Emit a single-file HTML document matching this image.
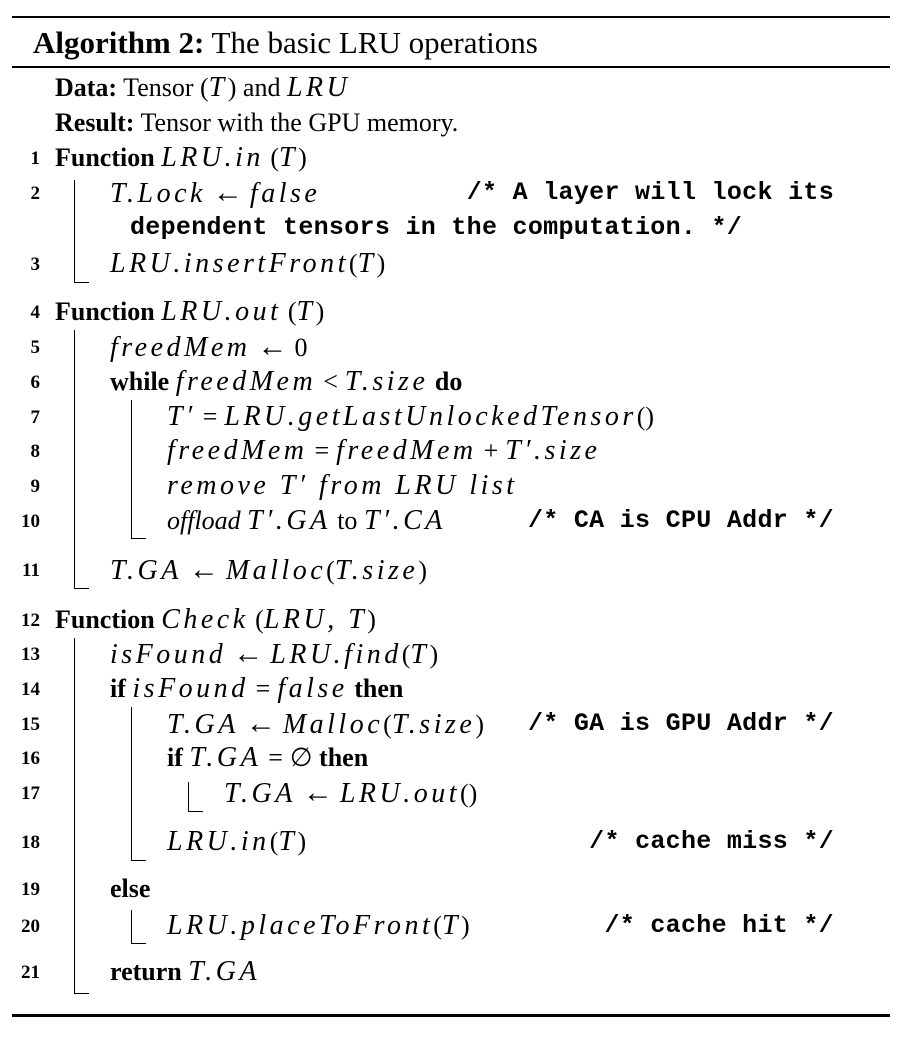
<!DOCTYPE html>
<html><head><meta charset="utf-8"><style>
body{margin:0;width:906px;height:1042px;background:#fff;position:relative;font-family:"Liberation Serif",serif;color:#000;overflow:hidden}
.r{position:absolute;left:12px;width:878px;background:#000}
.l{position:absolute;height:30px;line-height:30px;font-size:26px;white-space:nowrap}
.n{position:absolute;left:0;width:40px;text-align:right;height:30px;line-height:32px;font-size:19px;font-weight:bold}
.c{position:absolute;right:72px;height:30px;line-height:30px;font-family:"Liberation Mono",monospace;font-size:25px;font-weight:bold;white-space:nowrap;letter-spacing:0.3px}
i{font-style:italic;letter-spacing:3.5px;font-size:28px}
i.t{letter-spacing:0;font-size:26px}
b{font-weight:bold}
.o{margin:0 7px}
.a{font-size:30px;margin:0 7px}
.v{position:absolute;border-left:1.5px solid #000;border-bottom:1.5px solid #000;width:14px}
</style></head><body>
<div class="r" style="top:16px;height:2px"></div>
<div class="l" style="left:33px;top:26px;font-size:31px;line-height:34px;height:34px"><b>Algorithm 2:</b> The basic LRU operations</div>
<div class="r" style="top:66px;height:2px"></div>

<div class="l" style="left:55px;top:73px"><b>Data:</b> Tensor (<i>T</i>) and <i>LRU</i></div>
<div class="l" style="left:55px;top:108px"><b>Result:</b> Tensor with the GPU memory.</div>

<div class="n" style="top:143px">1</div><div class="l" style="left:55px;top:143px"><b>Function</b> <i>LRU.in</i> (<i>T</i>)</div>
<div class="n" style="top:178px">2</div><div class="l" style="left:110px;top:178px"><i>T.Lock</i><span class="a">←</span><i>false</i></div>
<div class="c" style="top:178px">/* A layer will lock its</div>
<div class="l" style="left:130px;top:213px;font-family:'Liberation Mono',monospace;font-size:25px;font-weight:bold;letter-spacing:0.3px">dependent tensors in the computation. */</div>
<div class="n" style="top:249px">3</div><div class="l" style="left:110px;top:249px"><i>LRU.insertFront</i>(<i>T</i>)</div>
<div class="v" style="left:74px;top:180px;height:102px"></div>

<div class="n" style="top:297px">4</div><div class="l" style="left:55px;top:297px"><b>Function</b> <i>LRU.out</i> (<i>T</i>)</div>
<div class="n" style="top:332px">5</div><div class="l" style="left:110px;top:332px"><i>freedMem</i><span class="a">←</span>0</div>
<div class="n" style="top:367px">6</div><div class="l" style="left:110px;top:367px"><b>while</b> <i>freedMem</i><span class="o">&lt;</span><i>T.size</i> <b>do</b></div>
<div class="n" style="top:402px">7</div><div class="l" style="left:167px;top:402px"><i>T′</i><span class="o">=</span><i>LRU.getLastUnlockedTensor</i>()</div>
<div class="n" style="top:436px">8</div><div class="l" style="left:167px;top:436px"><i>freedMem</i><span class="o">=</span><i>freedMem</i><span class="o">+</span><i>T′.size</i></div>
<div class="n" style="top:471px">9</div><div class="l" style="left:167px;top:471px"><i>remove T′ from LRU list</i></div>
<div class="n" style="top:506px">10</div><div class="l" style="left:167px;top:506px"><i class="t">offload</i> <i>T′.GA</i> to <i>T′.CA</i></div>
<div class="c" style="top:506px">/* CA is CPU Addr */</div>
<div class="v" style="left:131px;top:400px;height:138px"></div>
<div class="n" style="top:555px">11</div><div class="l" style="left:110px;top:555px"><i>T.GA</i><span class="a">←</span><i>Malloc</i>(<i>T.size</i>)</div>
<div class="v" style="left:74px;top:330px;height:258px"></div>

<div class="n" style="top:605px">12</div><div class="l" style="left:55px;top:605px"><b>Function</b> <i>Check</i> (<i>LRU, T</i>)</div>
<div class="n" style="top:639px">13</div><div class="l" style="left:110px;top:639px"><i>isFound</i><span class="a">←</span><i>LRU.find</i>(<i>T</i>)</div>
<div class="n" style="top:674px">14</div><div class="l" style="left:110px;top:674px"><b>if</b> <i>isFound</i><span class="o">=</span><i>false</i> <b>then</b></div>
<div class="n" style="top:709px">15</div><div class="l" style="left:167px;top:709px"><i>T.GA</i><span class="a">←</span><i>Malloc</i>(<i>T.size</i>)</div>
<div class="c" style="top:709px">/* GA is GPU Addr */</div>
<div class="n" style="top:743px">16</div><div class="l" style="left:167px;top:743px"><b>if</b> <i>T.GA</i><span class="o">=</span>∅ <b>then</b></div>
<div class="n" style="top:778px">17</div><div class="l" style="left:224px;top:778px"><i>T.GA</i><span class="a">←</span><i>LRU.out</i>()</div>
<div class="v" style="left:188px;top:782px;height:29px"></div>
<div class="n" style="top:827px">18</div><div class="l" style="left:167px;top:827px"><i>LRU.in</i>(<i>T</i>)</div>
<div class="c" style="top:827px">/* cache miss */</div>
<div class="v" style="left:131px;top:707px;height:153px"></div>
<div class="n" style="top:874px">19</div><div class="l" style="left:110px;top:874px"><b>else</b></div>
<div class="n" style="top:911px">20</div><div class="l" style="left:167px;top:911px"><i>LRU.placeToFront</i>(<i>T</i>)</div>
<div class="c" style="top:911px">/* cache hit */</div>
<div class="v" style="left:131px;top:910px;height:33px"></div>
<div class="n" style="top:957px">21</div><div class="l" style="left:110px;top:957px"><b>return</b> <i>T.GA</i></div>
<div class="v" style="left:74px;top:638px;height:355px"></div>

<div class="r" style="top:1014px;height:3px"></div>
</body></html>
